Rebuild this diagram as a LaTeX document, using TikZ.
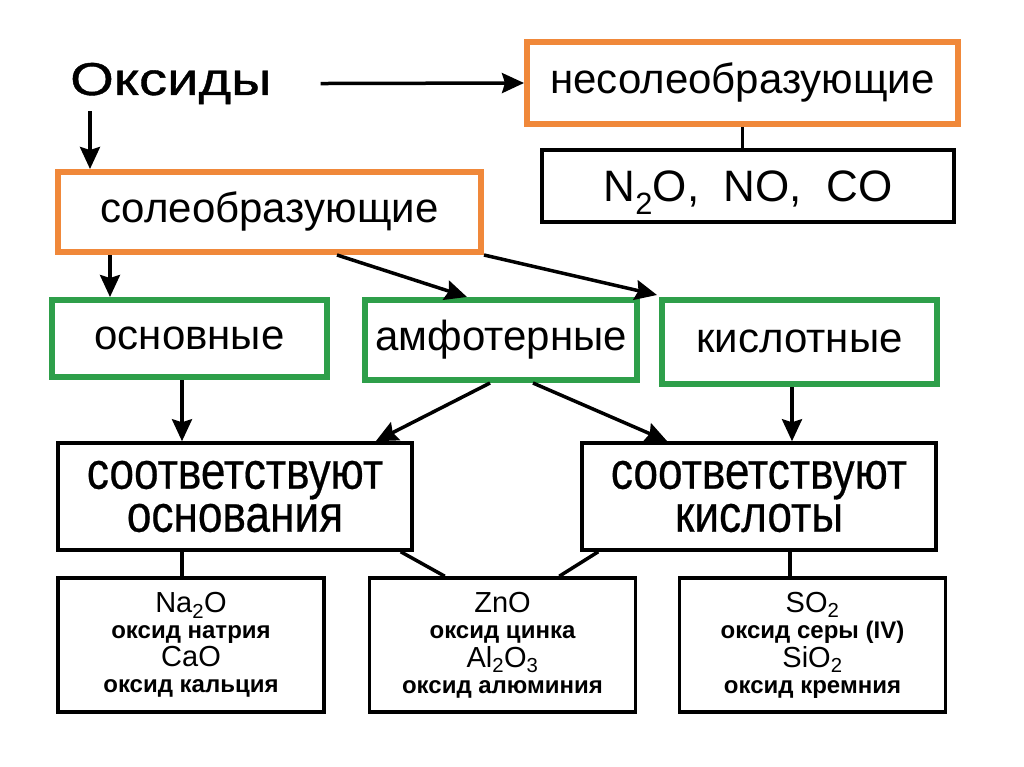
\documentclass[tikz,border=0pt]{standalone}
\usepackage{fontspec}
\setmainfont{Liberation Sans}
\newfontfamily\narrowfont[FakeStretch=0.85,FakeBold=0.4]{Liberation Sans}
\newfontfamily\wideoks[FakeStretch=1.22,FakeBold=0.8]{Liberation Sans}
\usetikzlibrary{arrows.meta,calc}
\definecolor{orng}{RGB}{240,136,58}
\definecolor{grn}{RGB}{46,159,74}
\tikzset{
  obox/.style={draw=orng,line width=6pt,inner sep=0pt,text height=30pt,text depth=8.4pt,font=\fontsize{42}{48}\selectfont},
  gbox/.style={draw=grn,line width=6pt,inner sep=0pt,text height=30pt,text depth=8.4pt,font=\fontsize{42}{48}\selectfont},
  bbox/.style={draw=black,line width=3.5pt,inner sep=0pt,align=center},
  midbox/.style={bbox,minimum width=354,minimum height=107,font=\narrowfont\fontsize{52}{43}\selectfont},
  lowbox/.style={bbox,minimum width=266,minimum height=134,font=\bfseries\fontsize{24}{25}\selectfont},
  arr/.style={line width=3.5pt,-{Stealth[length=22pt,width=20pt,inset=3pt]}},
  ln/.style={line width=3.5pt},
}
\newcommand{\formula}[1]{{\mdseries\fontsize{29}{25}\selectfont #1}}
\begin{document}
\begin{tikzpicture}[x=1pt,y=-1pt]
\useasboundingbox[fill=white] (0,0) rectangle (1024,767);
% top
\node[inner sep=0pt,anchor=base west,font=\wideoks\fontsize{46}{50}\selectfont] (oks) at (70,95) {Оксиды};
\node[obox,minimum width=431,minimum height=82] (nes) at (742.5,83) {несолеобразующие};
\node[bbox,minimum width=412,minimum height=72,text height=31.7pt,text depth=0pt,font=\fontsize{44}{50}\selectfont] (n2o) at (748,186) {N\textsubscript{2}O,\ \ NO,\ \ CO};
\node[obox,minimum width=423,minimum height=80] (sol) at (269.5,212) {солеобразующие};
% middle
\node[gbox,minimum width=275,minimum height=77] (osn) at (189.5,338.5) {основные};
\node[gbox,minimum width=272,minimum height=80] (amf) at (501,340) {амфотерные};
\node[gbox,minimum width=275,minimum height=84] (kis) at (799.5,342) {кислотные};
\node[midbox] (sor) at (235,496.5) {соответствуют\\основания};
\node[midbox] (skis) at (759,496.5) {соответствуют\\кислоты};
% bottom
\node[lowbox] (na) at (191,645) {\formula{Na\textsubscript{2}O}\\[1pt]оксид натрия\\[2pt]\formula{CaO}\\[1pt]оксид кальция};
\node[lowbox] (zn) at (502.5,645) {\formula{ZnO}\\[1pt]оксид цинка\\[2pt]\formula{Al\textsubscript{2}O\textsubscript{3}}\\[1pt]оксид алюминия};
\node[lowbox] (so) at (812.5,645) {\formula{SO\textsubscript{2}}\\[1pt]оксид серы (IV)\\[2pt]\formula{SiO\textsubscript{2}}\\[1pt]оксид кремния};
% connectors
\draw[arr] ($(oks.east)+(49,0)$ |- nes.west) -- (nes.west);
\draw[ln] (nes.south) -- (nes.south |- n2o.north);
\coordinate (o1) at ([xshift=20pt,yshift=-7pt]oks.south west);
\draw[arr] (o1) -- (o1 |- sol.north);
\draw[arr] ([xshift=55pt]sol.south west) -- ([xshift=61pt]osn.north west);
\draw[arr] ([xshift=282pt]sol.south west) -- ([xshift=105pt]amf.north west);
\draw[arr] (sol.south east) -- ([xshift=-2pt,yshift=2pt]kis.north west);
\draw[arr] ([xshift=-7.5pt]osn.south) -- ([xshift=-7.5pt]osn.south |- sor.north);
\draw[arr] ([xshift=-11pt]amf.south) -- ([xshift=-38pt]sor.north east);
\draw[arr] ([xshift=32pt]amf.south) -- ([xshift=87pt]skis.north west);
\draw[arr] ([xshift=-7.5pt]kis.south) -- ([xshift=-7.5pt]kis.south |- skis.north);
\draw[ln] ([xshift=-53pt]sor.south) -- ([xshift=-53pt]sor.south |- na.north);
\draw[ln] ([xshift=-13pt]sor.south east) -- ([xshift=77pt]zn.north west);
\draw[ln] ([xshift=18pt]skis.south west) -- ([xshift=-78pt]zn.north east);
\draw[ln] ([xshift=31pt]skis.south) -- ([xshift=31pt]skis.south |- so.north);
\end{tikzpicture}
\end{document}
